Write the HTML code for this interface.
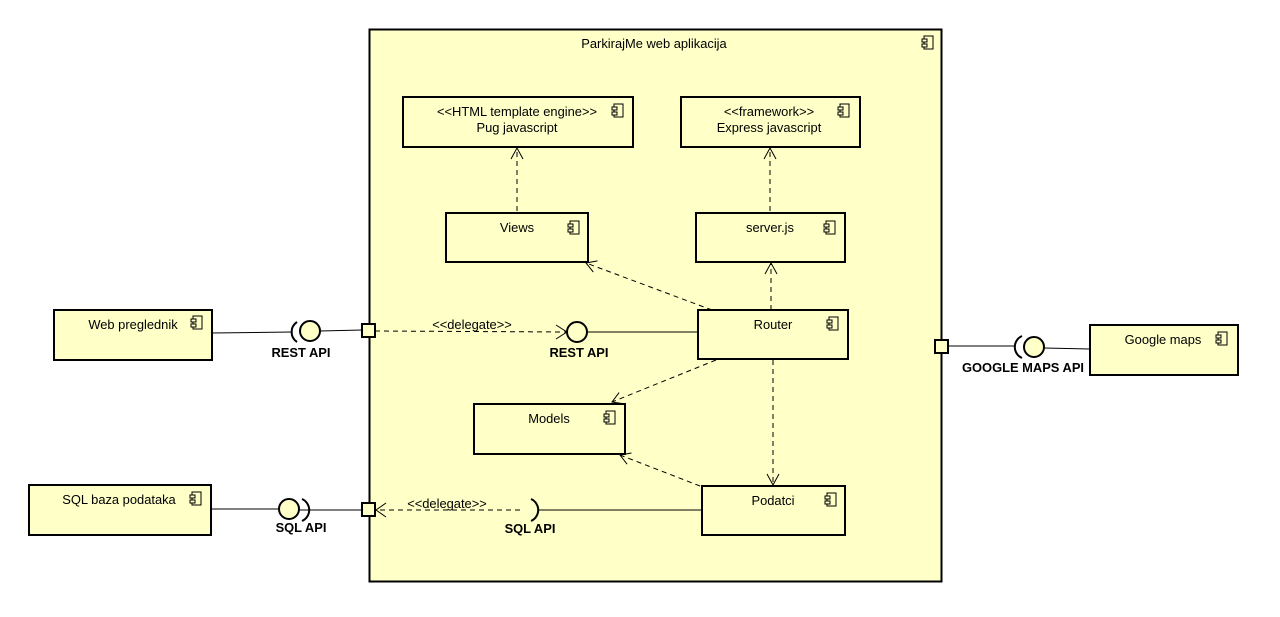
<!DOCTYPE html>
<html><head><meta charset="utf-8"><style>
html,body{margin:0;padding:0;background:#fff;}
svg{display:block;}
text{font-family:"Liberation Sans",sans-serif;font-size:12.9px;fill:#000;}
.b{font-weight:bold;}
</style></head><body>
<svg width="1280" height="617" viewBox="0 0 1280 617" xmlns="http://www.w3.org/2000/svg">
<defs>
<g id="ic"><rect x="2" y="0" width="9" height="13" fill="none" stroke="#000" stroke-width="1"/><rect x="0" y="3" width="5" height="3" fill="#ffffc8" stroke="#000" stroke-width="1"/><rect x="0" y="8" width="5" height="3" fill="#ffffc8" stroke="#000" stroke-width="1"/></g>
</defs>
<g fill="#ffffc8" stroke="#000" stroke-width="2">
<rect x="369.5" y="29.5" width="572" height="552"/>
<rect x="403" y="97" width="230" height="50"/>
<rect x="681" y="97" width="179" height="50"/>
<rect x="446" y="213" width="142" height="49"/>
<rect x="696" y="213" width="149" height="49"/>
<rect x="698" y="310" width="150" height="49"/>
<rect x="474" y="404" width="151" height="50"/>
<rect x="702" y="486" width="143" height="49"/>
<rect x="54" y="310" width="158" height="50"/>
<rect x="29" y="485" width="182" height="50"/>
<rect x="1090" y="325" width="148" height="50"/>
</g>
<use href="#ic" x="922" y="36"/>
<use href="#ic" x="612" y="104"/>
<use href="#ic" x="838" y="104"/>
<use href="#ic" x="568" y="221"/>
<use href="#ic" x="824" y="221"/>
<use href="#ic" x="827" y="317"/>
<use href="#ic" x="604" y="411"/>
<use href="#ic" x="825" y="493"/>
<use href="#ic" x="191" y="316"/>
<use href="#ic" x="190" y="492"/>
<use href="#ic" x="1216" y="332"/>
<text x="654" y="48" text-anchor="middle">ParkirajMe web aplikacija</text>
<text x="517" y="116" text-anchor="middle">&lt;&lt;HTML template engine&gt;&gt;</text>
<text x="517" y="132" text-anchor="middle">Pug javascript</text>
<text x="769" y="116" text-anchor="middle">&lt;&lt;framework&gt;&gt;</text>
<text x="769" y="132" text-anchor="middle">Express javascript</text>
<text x="517" y="232" text-anchor="middle">Views</text>
<text x="770" y="232" text-anchor="middle">server.js</text>
<text x="773" y="329" text-anchor="middle">Router</text>
<text x="549" y="423" text-anchor="middle">Models</text>
<text x="773" y="505" text-anchor="middle">Podatci</text>
<text x="133" y="329" text-anchor="middle">Web preglednik</text>
<text x="119" y="504" text-anchor="middle">SQL baza podataka</text>
<text x="1163" y="344" text-anchor="middle">Google maps</text>
<g fill="none" stroke="#000" stroke-width="1">
<line x1="212" y1="333" x2="292" y2="332"/>
<line x1="320" y1="331" x2="362" y2="330"/>
<line x1="587" y1="332" x2="698" y2="332"/>
<line x1="211" y1="509" x2="279" y2="509"/>
<line x1="299" y1="510" x2="362" y2="510"/>
<line x1="538" y1="510" x2="702" y2="510"/>
<line x1="948" y1="346" x2="1015" y2="346"/>
<line x1="1044" y1="348" x2="1090" y2="349"/>
</g>
<g fill="none" stroke="#000" stroke-width="2">
<path d="M297,322 A12,12 0 0 0 297,342"/>
<path d="M302,499 A12,12 0 0 1 302,521"/>
<path d="M531,499 A12,12 0 0 1 531,521"/>
<path d="M1022,336 A12,12 0 0 0 1022,358"/>
</g>
<g fill="#ffffc8" stroke="#000" stroke-width="2">
<circle cx="310" cy="331" r="10"/>
<circle cx="577" cy="332" r="10"/>
<circle cx="289" cy="509" r="10"/>
<circle cx="1034" cy="347" r="10"/>
<rect x="362" y="324" width="13" height="13"/>
<rect x="362" y="503" width="13" height="13"/>
<rect x="935" y="340" width="13" height="13"/>
</g>
<g fill="none" stroke="#000" stroke-width="1" stroke-dasharray="5,4">
<line x1="375" y1="331" x2="566" y2="332"/>
<line x1="520" y1="510" x2="376" y2="510"/>
<line x1="517" y1="211" x2="517" y2="149"/>
<line x1="770" y1="211" x2="770" y2="149"/>
<line x1="712" y1="310" x2="586" y2="263"/>
<line x1="771" y1="310" x2="771" y2="264"/>
<line x1="716" y1="360" x2="612" y2="402"/>
<line x1="773" y1="360" x2="773" y2="484"/>
<line x1="700" y1="486" x2="620" y2="455"/>
</g>
<g fill="none" stroke="#000" stroke-width="1">
<path d="M556,325 L567,332 L556,339"/>
<path d="M386,503 L376,510 L386,517"/>
<path d="M511,159 L517,148 L523,159"/>
<path d="M764,159 L770,148 L776,159"/>
<path d="M765,274 L771,263 L777,274"/>
<path d="M597.5,260.9 L586,263 L593.3,272.1"/>
<path d="M623.5,403.8 L612,402 L619.1,392.6"/>
<path d="M767,474 L773,485 L779,474"/>
<path d="M631.5,453 L620,455 L627.1,464.2"/>
</g>
<text x="472" y="329" text-anchor="middle">&lt;&lt;delegate&gt;&gt;</text>
<text x="447" y="508" text-anchor="middle">&lt;&lt;delegate&gt;&gt;</text>
<text class="b" x="301" y="357" text-anchor="middle">REST API</text>
<text class="b" x="579" y="357" text-anchor="middle">REST API</text>
<text class="b" x="301" y="532" text-anchor="middle">SQL API</text>
<text class="b" x="530" y="533" text-anchor="middle">SQL API</text>
<text class="b" x="1023" y="372" text-anchor="middle">GOOGLE MAPS API</text>
</svg>
</body></html>
